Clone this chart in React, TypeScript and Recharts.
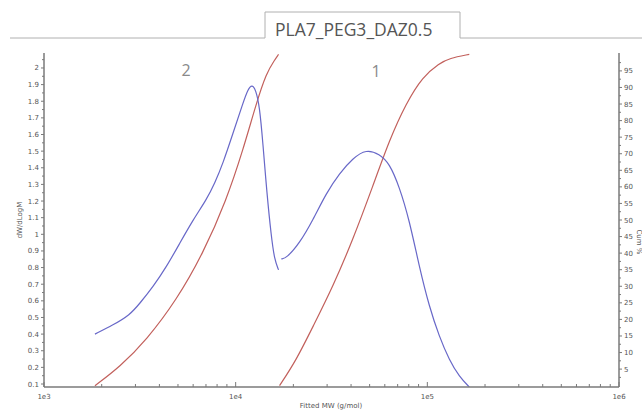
import { LineChart, Line, XAxis, YAxis } from "recharts";

// Molekülagewicht-Verteilung: zwei Peaks (dW/dLogM) + kumulative Kurven (%)
const decades = [1e3, 1e4, 1e5, 1e6];
const decadeLabels = ["1e3", "1e4", "1e5", "1e6"];
const wTicks = [0.1, 0.2, 0.3, 0.4, 0.5, 0.6, 0.7, 0.8, 0.9, 1, 1.1, 1.2, 1.3, 1.4, 1.5, 1.6, 1.7, 1.8, 1.9, 2];
const cumTicks = [5, 10, 15, 20, 25, 30, 35, 40, 45, 50, 55, 60, 65, 70, 75, 80, 85, 90, 95];

// Peak 2 (niedermolekular)
const peak2Mw = [1844, 2296, 2805, 3162, 3710, 4356, 5108, 5995, 7035, 7776, 8590, 9683, 10910, 11590, 12160, 12710, 13340, 13870, 14550, 15340, 15960, 16740];
const peak2W = [0.4, 0.455, 0.515, 0.585, 0.685, 0.805, 0.946, 1.087, 1.207, 1.307, 1.427, 1.607, 1.788, 1.872, 1.9, 1.872, 1.768, 1.547, 1.247, 0.986, 0.846, 0.786];

// Peak 1
const peak1Mw = [17300, 18370, 21540, 25290, 29670, 34820, 40850, 47970, 56230, 63390, 71450, 80540, 90780, 102300, 115500, 130200, 146800, 165500];
const peak1W = [0.852, 0.856, 0.946, 1.086, 1.247, 1.367, 1.457, 1.512, 1.483, 1.427, 1.286, 1.086, 0.805, 0.565, 0.384, 0.244, 0.144, 0.082];

// kumulativ
const cum2Mw = [1844, 2489, 3427, 4909, 6761, 8948, 10920, 12810, 14450, 15970, 16740];
const cum2Pct = [0, 5.7, 13.8, 25.8, 39.9, 56, 71.1, 85.2, 94.3, 98.3, 100];
const cum1Mw = [16940, 20700, 25290, 32150, 40850, 51880, 63440, 77440, 94580, 115500, 130200, 165500];
const cum1Pct = [0, 7.7, 17.8, 29.9, 44, 60.1, 74.2, 85.2, 93.3, 97.3, 98.8, 100];

const zip = (xs: number[], ys: number[]) => xs.map((mw, i) => ({ mw, v: ys[i] }));

const xTicks: number[] = [];
for (let d = 1e3; d < 1e6; d *= 10) for (let k = 1; k < 10; k++) xTicks.push(d * k);
xTicks.push(1e6);
const wAllTicks = wTicks.flatMap((t) => [t, +(t + 0.05).toFixed(2)]).filter((t) => t <= 2.05);
const cumAllTicks = [2.5, ...cumTicks.flatMap((t) => [t, t + 2.5])];

const AXIS = "#7a7a7a";
const TXT = "#555";
const FONT = "DejaVu Sans, Verdana, sans-serif";
const BLUE = "#6868c8";
const RED = "#c2605c";

function XTick({ x, y, payload }: any) {
  const i = decades.indexOf(payload.value);
  return (
    <g>
      <line x1={x} x2={x} y1={y} y2={y - (i >= 0 ? 5 : 3)} stroke={AXIS} strokeWidth={1} />
      {i >= 0 && (
        <text x={x} y={y + 12} textAnchor="middle" fontSize={7} fill={TXT} fontFamily={FONT}>
          {decadeLabels[i]}
        </text>
      )}
    </g>
  );
}

function LeftTick({ x, y, payload }: any) {
  const major = wTicks.some((t) => Math.abs(t - payload.value) < 1e-6);
  return (
    <g>
      <line x1={x} x2={x - (major ? 3 : 2)} y1={y} y2={y} stroke={AXIS} strokeWidth={1} />
      {major && (
        <text x={x - 5} y={y + 2.5} textAnchor="end" fontSize={7} fill={TXT} fontFamily={FONT}>
          {String(payload.value)}
        </text>
      )}
    </g>
  );
}

function RightTick({ x, y, payload }: any) {
  const major = cumTicks.includes(payload.value);
  return (
    <g>
      <line x1={x} x2={x + (major ? 3 : 2)} y1={y} y2={y} stroke={AXIS} strokeWidth={1} />
      {major && (
        <text x={x + 5} y={y + 2.5} textAnchor="start" fontSize={7} fill={TXT} fontFamily={FONT}>
          {String(payload.value)}
        </text>
      )}
    </g>
  );
}

export default function App() {
  return (
    <div style={{ position: "absolute", left: 0, top: 0, width: 642, height: 411, background: "#fff" }}>
      <LineChart width={642} height={411} margin={{ top: 53, right: 0, bottom: 0, left: 14 }}>
        <XAxis
          dataKey="mw"
          type="number"
          scale="log"
          domain={[1e3, 1e6]}
          ticks={xTicks}
          interval={0}
          height={24}
          tickSize={0}
          tickMargin={0}
          tickLine={false}
          axisLine={{ stroke: AXIS, strokeWidth: 1.5 }}
          tick={<XTick />}
          allowDataOverflow
        />
        <YAxis
          yAxisId="w"
          orientation="left"
          type="number"
          domain={[0.082, 2.09]}
          ticks={wAllTicks}
          interval={0}
          width={30}
          tickSize={0}
          tickMargin={0}
          tickLine={false}
          axisLine={{ stroke: AXIS, strokeWidth: 1.5 }}
          tick={<LeftTick />}
          allowDataOverflow
        />
        <YAxis
          yAxisId="cum"
          orientation="right"
          type="number"
          domain={[-0.4, 100.4]}
          ticks={cumAllTicks}
          interval={0}
          width={23}
          tickSize={0}
          tickMargin={0}
          tickLine={false}
          axisLine={{ stroke: AXIS, strokeWidth: 1.5 }}
          tick={<RightTick />}
          allowDataOverflow
        />
        <Line yAxisId="cum" data={zip(cum2Mw, cum2Pct)} dataKey="v" type="basis" stroke={RED} strokeWidth={1.2} dot={false} isAnimationActive={false} />
        <Line yAxisId="cum" data={zip(cum1Mw, cum1Pct)} dataKey="v" type="basis" stroke={RED} strokeWidth={1.2} dot={false} isAnimationActive={false} />
        <Line yAxisId="w" data={zip(peak2Mw, peak2W)} dataKey="v" type="basis" stroke={BLUE} strokeWidth={1.2} dot={false} isAnimationActive={false} />
        <Line yAxisId="w" data={zip(peak1Mw, peak1W)} dataKey="v" type="basis" stroke={BLUE} strokeWidth={1.2} dot={false} isAnimationActive={false} />
      </LineChart>
      <svg width={642} height={411} style={{ position: "absolute", left: 0, top: 0, pointerEvents: "none" }}>
        <path d="M10 38 H265 V12 H460 V38 H642" fill="none" stroke="#b0b0b0" strokeWidth={1} />
        <text x={275} y={36} fontSize={17.5} fill={TXT} fontFamily="Open Sans, sans-serif">
          PLA7_PEG3_DAZ0.5
        </text>
        <text x={186} y={76} textAnchor="middle" fontSize={16} fill="#8a8a8a" fontFamily="Open Sans, sans-serif">2</text>
        <text x={376} y={77} textAnchor="middle" fontSize={16} fill="#8a8a8a" fontFamily="Open Sans, sans-serif">1</text>
        <text x={22} y={220} transform="rotate(-90 22 220)" textAnchor="middle" fontSize={7} fill={TXT} fontFamily={FONT}>
          dW/dLogM
        </text>
        <text x={637} y={242} transform="rotate(90 637 242)" textAnchor="middle" fontSize={7} fill={TXT} fontFamily={FONT}>
          Cum %
        </text>
        <text x={331} y={408} textAnchor="middle" fontSize={7} fill={TXT} fontFamily={FONT}>
          Fitted MW (g/mol)
        </text>
      </svg>
    </div>
  );
}
